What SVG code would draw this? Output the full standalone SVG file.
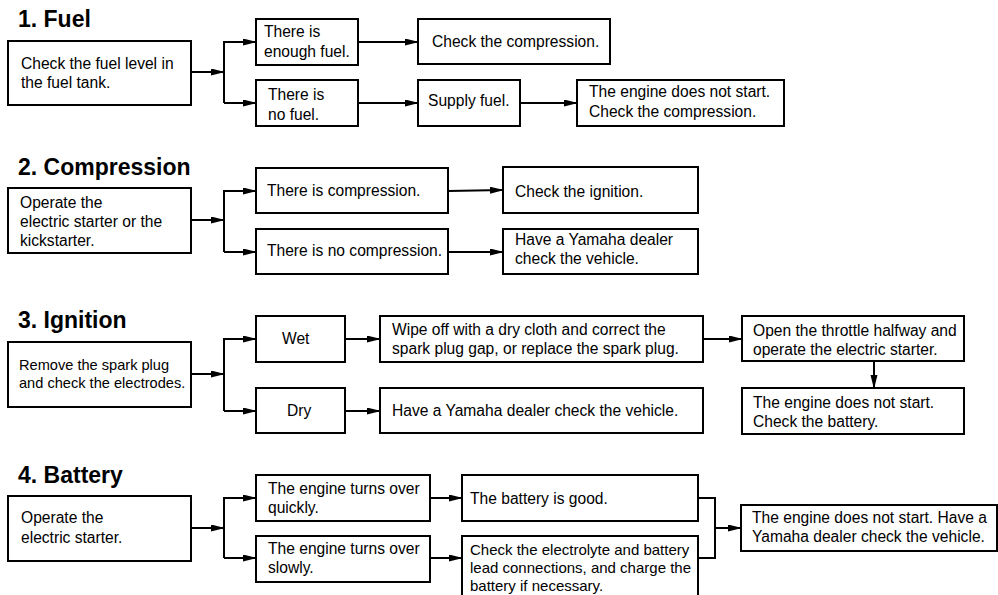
<svg xmlns="http://www.w3.org/2000/svg" width="998" height="595" viewBox="0 0 998 595">
<style>
.bg{fill:#fff}
.box{fill:#fff;stroke:#000;stroke-width:2}
.t{font-family:"Liberation Sans",Arial,sans-serif;font-size:15.6px;fill:#000}
.h{font-family:"Liberation Sans",Arial,sans-serif;font-size:23px;font-weight:bold;fill:#000}
.c{fill:none;stroke:#000;stroke-width:2}
</style>
<defs>
<marker id="ah" markerUnits="userSpaceOnUse" markerWidth="14" markerHeight="8" refX="13" refY="3.5" orient="auto">
<path d="M0,0 L14,3.5 L0,7 z" fill="#000"/>
</marker>
</defs>
<rect class="bg" x="0" y="0" width="998" height="595"/>

<text class="h" x="18" y="27">1. Fuel</text>
<text class="h" x="18" y="175">2. Compression</text>
<text class="h" x="18" y="328">3. Ignition</text>
<text class="h" x="18" y="483">4. Battery</text>

<g id="connectors">
<!-- section 1 -->
<path class="c" d="M191,72 H224" marker-end="url(#ah)"/>
<path class="c" d="M224,103 V42 H256" marker-end="url(#ah)"/>
<path class="c" d="M224,103 H256" marker-end="url(#ah)"/>
<path class="c" d="M358,42 H418" marker-end="url(#ah)"/>
<path class="c" d="M358,103 H418" marker-end="url(#ah)"/>
<path class="c" d="M520,103 H577" marker-end="url(#ah)"/>
<!-- section 2 -->
<path class="c" d="M191,220 H224" marker-end="url(#ah)"/>
<path class="c" d="M224,252 V191 H256" marker-end="url(#ah)"/>
<path class="c" d="M224,252 H256" marker-end="url(#ah)"/>
<path class="c" d="M448,191 L503,190" marker-end="url(#ah)"/>
<path class="c" d="M448,252 H503" marker-end="url(#ah)"/>
<!-- section 3 -->
<path class="c" d="M191,374 H224" marker-end="url(#ah)"/>
<path class="c" d="M224,411 V339 H256" marker-end="url(#ah)"/>
<path class="c" d="M224,411 H256" marker-end="url(#ah)"/>
<path class="c" d="M345,339 H380" marker-end="url(#ah)"/>
<path class="c" d="M345,411 H380" marker-end="url(#ah)"/>
<path class="c" d="M703,339 H742" marker-end="url(#ah)"/>
<path class="c" d="M874,361 V388" marker-end="url(#ah)"/>
<!-- section 4 -->
<path class="c" d="M191,528 H224" marker-end="url(#ah)"/>
<path class="c" d="M224,558 V498 H256" marker-end="url(#ah)"/>
<path class="c" d="M224,558 H256" marker-end="url(#ah)"/>
<path class="c" d="M430,498 H462" marker-end="url(#ah)"/>
<path class="c" d="M430,558 H462" marker-end="url(#ah)"/>
<path class="c" d="M698,498 H715 V558 H698"/>
<path class="c" d="M715,528 H741" marker-end="url(#ah)"/>
</g>

<!-- Section 1 -->
<g id="fuel-check">
<rect class="box" x="8" y="41" width="183" height="64"/>
<text class="t" x="21" y="69">Check the fuel level in</text>
<text class="t" x="21" y="88">the fuel tank.</text>
</g>
<g id="fuel-enough">
<rect class="box" x="256" y="19" width="102" height="46"/>
<text class="t" x="264" y="37">There is</text>
<text class="t" x="264" y="57">enough fuel.</text>
</g>
<g id="fuel-none">
<rect class="box" x="256" y="80" width="102" height="46"/>
<text class="t" x="268" y="100">There is</text>
<text class="t" x="268" y="120">no fuel.</text>
</g>
<g id="fuel-check-compression">
<rect class="box" x="418" y="19" width="192" height="45"/>
<text class="t" x="432" y="47">Check the compression.</text>
</g>
<g id="fuel-supply">
<rect class="box" x="418" y="80" width="102" height="46"/>
<text class="t" x="428" y="106">Supply fuel.</text>
</g>
<g id="fuel-no-start">
<rect class="box" x="577" y="80" width="207" height="46"/>
<text class="t" x="589" y="97">The engine does not start.</text>
<text class="t" x="589" y="117">Check the compression.</text>
</g>

<!-- Section 2 -->
<g id="comp-operate">
<rect class="box" x="8" y="188" width="183" height="65"/>
<text class="t" x="20" y="208">Operate the</text>
<text class="t" x="20" y="227">electric starter or the</text>
<text class="t" x="20" y="246">kickstarter.</text>
</g>
<g id="comp-yes">
<rect class="box" x="256" y="168" width="192" height="45"/>
<text class="t" x="267" y="196">There is compression.</text>
</g>
<g id="comp-no">
<rect class="box" x="256" y="229" width="192" height="45"/>
<text class="t" x="267" y="256">There is no compression.</text>
</g>
<g id="comp-check-ignition">
<rect class="box" x="503" y="167" width="195" height="46"/>
<text class="t" x="515" y="197">Check the ignition.</text>
</g>
<g id="comp-dealer">
<rect class="box" x="503" y="229" width="195" height="45"/>
<text class="t" x="515" y="245">Have a Yamaha dealer</text>
<text class="t" x="515" y="264">check the vehicle.</text>
</g>

<!-- Section 3 -->
<g id="ign-remove">
<rect class="box" x="8" y="342" width="183" height="65"/>
<text class="t" x="19" y="370" style="font-size:14.6px">Remove the spark plug</text>
<text class="t" x="19" y="388" style="font-size:14.6px">and check the electrodes.</text>
</g>
<g id="ign-wet">
<rect class="box" x="256" y="316" width="89" height="46"/>
<text class="t" x="282" y="344">Wet</text>
</g>
<g id="ign-dry">
<rect class="box" x="256" y="388" width="89" height="45"/>
<text class="t" x="287" y="416">Dry</text>
</g>
<g id="ign-wipe">
<rect class="box" x="380" y="316" width="323" height="46"/>
<text class="t" x="392" y="335">Wipe off with a dry cloth and correct the</text>
<text class="t" x="392" y="354">spark plug gap, or replace the spark plug.</text>
</g>
<g id="ign-dealer">
<rect class="box" x="380" y="388" width="323" height="45"/>
<text class="t" x="392" y="416">Have a Yamaha dealer check the vehicle.</text>
</g>
<g id="ign-throttle">
<rect class="box" x="742" y="316" width="222" height="45"/>
<text class="t" x="753" y="336">Open the throttle halfway and</text>
<text class="t" x="753" y="355">operate the electric starter.</text>
</g>
<g id="ign-no-start">
<rect class="box" x="742" y="388" width="222" height="46"/>
<text class="t" x="753" y="408">The engine does not start.</text>
<text class="t" x="753" y="427">Check the battery.</text>
</g>

<!-- Section 4 -->
<g id="bat-operate">
<rect class="box" x="8" y="496" width="183" height="65"/>
<text class="t" x="21" y="523">Operate the</text>
<text class="t" x="21" y="543">electric starter.</text>
</g>
<g id="bat-quick">
<rect class="box" x="256" y="475" width="174" height="46"/>
<text class="t" x="268" y="494">The engine turns over</text>
<text class="t" x="268" y="513">quickly.</text>
</g>
<g id="bat-slow">
<rect class="box" x="256" y="536" width="174" height="46"/>
<text class="t" x="268" y="554">The engine turns over</text>
<text class="t" x="268" y="573">slowly.</text>
</g>
<g id="bat-good">
<rect class="box" x="462" y="475" width="236" height="46"/>
<text class="t" x="470" y="504">The battery is good.</text>
</g>
<g id="bat-check">
<rect class="box" x="462" y="536" width="236" height="70"/>
<text class="t" x="470" y="555" style="font-size:15px">Check the electrolyte and battery</text>
<text class="t" x="470" y="573" style="font-size:15px">lead connections, and charge the</text>
<text class="t" x="470" y="591" style="font-size:15px">battery if necessary.</text>
</g>
<g id="bat-dealer">
<rect class="box" x="741" y="505" width="256" height="46"/>
<text class="t" x="752" y="523">The engine does not start. Have a</text>
<text class="t" x="752" y="542">Yamaha dealer check the vehicle.</text>
</g>
</svg>
